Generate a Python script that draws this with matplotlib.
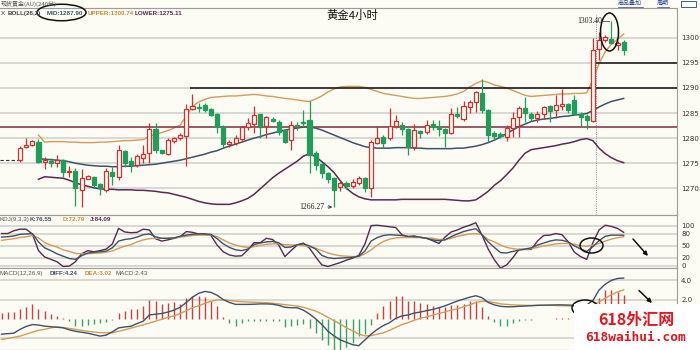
import numpy as np
import matplotlib.pyplot as plt
from matplotlib.patches import Ellipse, Rectangle

plt.rcParams['font.family'] = ['DejaVu Sans', 'Noto Sans CJK SC']

BG = '#fcfcf4'
RED = '#d22f2f'
GREEN = '#1e9e58'
MID_C = '#3e5366'
UP_C = '#d59b57'
LOW_C = '#5a2a52'
GRID = '#d5d5d2'
EDGE = '#9c9c9c'

# 4-hour gold candles, oldest first
opens = [1275.6, 1278.2, 1278.6, 1279.3, 1275.2, 1275.5, 1275.1, 1275.6, 1273.2, 1273.5,
         1269.7, 1271.9, 1272.3, 1270.8, 1269.7, 1273.3, 1272.3, 1277.5, 1275.5, 1274.6,
         1276.0, 1277.1, 1281.8, 1277.6, 1276.8, 1279.5, 1280.0, 1280.4, 1285.7, 1286.2,
         1286.6, 1285.7, 1284.9, 1282.3, 1278.8, 1279.0, 1279.8, 1282.2, 1282.9, 1284.8,
         1282.4, 1283.9, 1283.3, 1281.6, 1279.6, 1282.7, 1283.3, 1283.6, 1277.0, 1274.8,
         1273.0, 1272.0, 1270.2, 1271.0, 1270.5, 1271.0, 1272.0, 1270.0, 1279.1, 1280.3,
         1280.0, 1282.5, 1282.7, 1281.8, 1278.3, 1281.4, 1281.2, 1282.8, 1282.3, 1281.8,
         1281.1, 1284.8, 1283.9, 1286.1, 1287.1, 1289.0, 1285.6, 1281.0, 1280.9, 1280.3,
         1282.0, 1284.3, 1285.9, 1284.9, 1284.1, 1284.9, 1286.3, 1285.5, 1286.4, 1286.7,
         1287.6, 1284.9, 1284.4, 1283.5, 1297.7, 1299.5, 1299.8, 1298.5, 1299.2]
highs = [1278.4, 1280.0, 1279.7, 1279.8, 1276.2, 1276.0, 1276.6, 1275.8, 1274.4, 1274.0,
         1273.8, 1272.6, 1272.4, 1271.0, 1274.0, 1274.2, 1278.6, 1277.6, 1276.3, 1276.9,
         1278.6, 1283.0, 1283.0, 1277.7, 1280.0, 1280.3, 1281.0, 1286.8, 1288.8, 1287.0,
         1287.0, 1286.0, 1285.1, 1282.6, 1279.6, 1280.6, 1282.5, 1284.0, 1286.3, 1284.9,
         1284.5, 1284.3, 1283.6, 1281.8, 1283.4, 1283.3, 1285.5, 1287.3, 1277.4, 1275.0,
         1273.3, 1272.3, 1271.6, 1271.4, 1271.9, 1272.5, 1272.2, 1279.6, 1282.4, 1280.6,
         1285.9, 1284.7, 1283.2, 1282.1, 1282.8, 1281.7, 1283.6, 1283.7, 1283.7, 1282.0,
         1285.9, 1286.1, 1287.3, 1287.6, 1289.4, 1291.7, 1285.8, 1281.4, 1281.3, 1282.6,
         1285.3, 1286.3, 1288.2, 1285.2, 1285.4, 1286.4, 1286.6, 1288.6, 1289.7, 1287.0,
         1288.6, 1285.3, 1284.8, 1299.9, 1301.2, 1300.6, 1303.4, 1299.4, 1299.5]
lows = [1275.3, 1278.0, 1278.5, 1275.0, 1273.8, 1274.3, 1274.2, 1272.3, 1272.2, 1266.5,
        1266.3, 1271.8, 1270.1, 1268.6, 1269.3, 1270.6, 1271.7, 1274.3, 1273.3, 1274.3,
        1275.1, 1275.1, 1277.1, 1276.8, 1276.6, 1279.0, 1279.6, 1274.4, 1285.6, 1285.3,
        1285.3, 1284.5, 1281.0, 1278.3, 1278.3, 1278.6, 1279.3, 1281.6, 1281.1, 1280.0,
        1280.0, 1283.2, 1280.6, 1279.0, 1277.6, 1281.7, 1282.2, 1273.0, 1273.6, 1272.0,
        1271.0, 1266.27, 1269.5, 1269.9, 1270.0, 1270.7, 1269.2, 1268.3, 1278.9, 1278.0,
        1279.6, 1282.0, 1280.6, 1276.6, 1277.6, 1280.1, 1280.9, 1281.6, 1280.5, 1278.3,
        1280.9, 1284.0, 1283.5, 1285.1, 1285.3, 1285.0, 1279.3, 1279.6, 1280.0, 1279.4,
        1280.3, 1280.2, 1283.3, 1283.5, 1283.3, 1283.9, 1283.3, 1284.1, 1285.6, 1285.0,
        1284.7, 1282.4, 1281.8, 1283.2, 1295.6, 1299.2, 1298.7, 1297.6, 1296.6]
closes = [1278.0, 1278.7, 1279.4, 1275.3, 1275.6, 1275.1, 1275.6, 1273.3, 1273.5, 1270.0,
          1272.0, 1272.5, 1270.7, 1270.0, 1273.5, 1272.4, 1277.6, 1275.0, 1274.6, 1276.4,
          1276.8, 1281.8, 1277.6, 1277.0, 1279.6, 1280.0, 1280.6, 1285.7, 1286.3, 1285.9,
          1285.6, 1284.7, 1282.3, 1278.8, 1279.3, 1280.0, 1282.3, 1283.1, 1284.7, 1282.3,
          1284.3, 1283.5, 1281.3, 1279.3, 1282.6, 1282.5, 1283.1, 1276.6, 1274.6, 1273.0,
          1271.8, 1269.7, 1271.1, 1270.4, 1271.3, 1272.0, 1270.0, 1279.3, 1280.0, 1279.0,
          1282.4, 1283.5, 1281.8, 1278.3, 1281.6, 1281.0, 1282.7, 1282.3, 1281.8, 1281.1,
          1284.8, 1284.4, 1286.3, 1287.1, 1289.2, 1285.6, 1280.6, 1280.4, 1280.5, 1282.0,
          1284.1, 1285.9, 1285.1, 1284.1, 1284.9, 1286.1, 1285.4, 1286.6, 1286.8, 1285.6,
          1284.9, 1284.3, 1283.6, 1297.6, 1299.5, 1300.2, 1299.0, 1299.0, 1297.5]

# BOLL(26,2); the bands begin at candle 3
boll_start = 3
boll_upper = [1280.6, 1279.2, 1279.3, 1279.3, 1279.3, 1279.2, 1279.2, 1279.1, 1279.1, 1279.1,
              1279.2, 1279.2, 1279.3, 1279.4, 1279.5, 1279.5, 1279.6, 1279.7, 1280.3, 1280.8,
              1281.1, 1281.5, 1282.0, 1282.6, 1284.4, 1286.3, 1287.2, 1287.7, 1288.1, 1288.2,
              1288.3, 1288.4, 1288.4, 1288.5, 1288.6, 1288.7, 1288.6, 1288.4, 1288.3, 1288.1,
              1287.9, 1287.8, 1287.6, 1287.4, 1287.3, 1287.8, 1288.4, 1289.2, 1289.8, 1290.2,
              1290.3, 1290.3, 1290.3, 1290.1, 1289.7, 1289.3, 1288.9, 1288.7, 1288.5, 1288.3,
              1288.1, 1287.9, 1287.9, 1288.0, 1288.1, 1288.2, 1288.3, 1288.5, 1288.8, 1289.3,
              1290.2, 1290.9, 1291.4, 1291.1, 1290.6, 1290.3, 1290.0, 1289.5, 1289.0, 1288.5,
              1288.3, 1288.4, 1288.5, 1288.6, 1288.7, 1288.8, 1288.8, 1288.9, 1288.9, 1289.0,
              1291.6, 1294.8, 1297.2, 1298.7, 1299.7, 1300.74]
boll_mid = [1275.9, 1275.8, 1275.7, 1275.6, 1275.5, 1275.3, 1275.0, 1274.8, 1274.6, 1274.5,
            1274.4, 1274.4, 1274.3, 1274.3, 1274.4, 1274.4, 1274.5, 1274.6, 1274.7, 1274.8,
            1275.0, 1275.2, 1275.4, 1275.6, 1275.9, 1276.2, 1276.5, 1276.8, 1277.2, 1277.5,
            1278.0, 1278.4, 1278.8, 1279.2, 1279.6, 1280.0, 1280.3, 1280.7, 1281.0, 1281.3,
            1281.6, 1281.8, 1282.0, 1282.2, 1282.2, 1282.0, 1281.6, 1281.1, 1280.6, 1280.1,
            1279.6, 1279.1, 1278.7, 1278.3, 1278.1, 1278.0, 1278.0, 1278.0, 1278.1, 1278.1,
            1278.1, 1278.0, 1278.0, 1277.9, 1277.9, 1277.9, 1277.9, 1277.9, 1278.0, 1278.0,
            1278.2, 1278.4, 1278.7, 1279.1, 1279.6, 1280.2, 1280.9, 1281.6, 1282.3, 1282.8,
            1283.3, 1283.6, 1283.8, 1283.9, 1284.1, 1284.3, 1284.4, 1284.6, 1284.7, 1284.9,
            1285.5, 1286.2, 1286.8, 1287.3, 1287.6, 1287.90]
boll_lower = [1271.8, 1272.3, 1272.2, 1272.1, 1272.0, 1271.6, 1271.1, 1270.7, 1270.4, 1270.1,
              1269.9, 1269.8, 1269.8, 1269.7, 1269.7, 1269.7, 1269.6, 1269.6, 1269.5, 1269.4,
              1269.2, 1269.1, 1268.8, 1268.5, 1268.2, 1267.8, 1267.4, 1267.1, 1266.9, 1266.8,
              1266.8, 1266.8, 1267.1, 1267.5, 1268.0, 1268.8, 1269.9, 1271.0, 1272.1, 1273.0,
              1273.8, 1274.6, 1275.4, 1276.4, 1276.9, 1276.3, 1275.3, 1274.3, 1273.1, 1271.5,
              1270.0, 1269.0, 1268.3, 1267.9, 1267.7, 1267.7, 1267.7, 1267.7, 1267.7, 1267.8,
              1267.8, 1267.8, 1267.8, 1267.8, 1267.8, 1267.8, 1267.8, 1267.7, 1267.6, 1267.5,
              1267.5, 1267.7, 1268.5, 1269.4, 1270.6, 1271.5, 1272.7, 1274.0, 1275.6, 1277.0,
              1277.7, 1277.9, 1278.1, 1278.3, 1278.5, 1278.8, 1279.0, 1279.3, 1279.7, 1279.9,
              1279.5, 1278.0, 1276.9, 1276.1, 1275.5, 1275.11]

# KDJ(9,3,3) and MACD(12,26,9) start three bars before candle 0
ind_start = -3
kdj_k = [72, 73, 75, 79, 80, 81, 60, 45, 38, 30, 24, 18, 16, 25, 32, 34, 35, 37, 45, 62,
         66, 68, 72, 78, 80, 73, 69, 69, 70, 74, 77, 79, 80, 80, 79, 68, 55, 46, 40, 38,
         42, 53, 57, 60, 61, 58, 46, 47, 53, 55, 50, 42, 26, 20, 18, 19, 20, 21, 24, 37,
         62, 71, 76, 78, 77, 76, 74, 73, 72, 69, 65, 63, 65, 73, 80, 86, 90, 93, 78, 60,
         46, 33, 32, 36, 39, 42, 45, 52, 57, 62, 65, 64, 60, 50, 42, 36, 48, 63, 74, 77,
         77, 76.55]
kdj_d = [64, 66, 68, 71, 73, 76, 70, 58, 52, 47, 40, 36, 31, 30, 30, 31, 32, 34, 37, 44,
         49, 53, 60, 65, 68, 69, 69, 69, 70, 72, 74, 76, 77, 77, 77, 73, 65, 57, 52, 48,
         46, 48, 51, 54, 55, 55, 53, 52, 52, 51, 48, 44, 38, 32, 28, 25, 24, 23, 23, 30,
         40, 52, 61, 67, 70, 71, 71, 71, 71, 70, 69, 66, 66, 69, 74, 77, 80, 81, 78, 66,
         60, 52, 46, 43, 41, 41, 43, 46, 50, 52, 55, 56, 56, 54, 50, 49, 52, 56, 62, 67,
         70.5, 72.79]
kdj_j = [81, 81, 88, 92, 92, 80, 38, 22, 16, 10, -2, -1, 10, 30, 38, 35, 38, 42, 55, 94,
         85, 83, 84, 92, 90, 68, 62, 65, 69, 73, 86, 84, 80, 80, 76, 52, 35, 27, 24, 25,
         40, 58, 58, 69, 66, 52, 23, 38, 52, 57, 44, 22, 2, -2, 3, 8, 14, 19, 26, 55,
         101, 102, 100, 98, 96, 78, 73, 75, 71, 69, 63, 56, 72, 85, 90, 97, 102, 108, 77, 42,
         15, -6, 2, 20, 41, 41, 41, 62, 76, 77, 81, 78, 60, 34, 23, 16, 58, 90, 102, 99,
         94, 84.09]
macd_diff = [-1.6, -1.55, -1.5, -1.1, -0.8, -0.6, -0.65, -0.77, -0.82, -0.88,
             -0.94, -1.15, -1.3, -1.4, -1.5, -1.65, -1.8, -1.7, -1.35, -0.95,
             -0.85, -0.78, -0.5, -0.25, 0.4, 0.48, 0.55, 0.7, 0.9, 1.2,
             1.7, 2.25, 2.65, 2.85, 2.75, 2.45, 2.0, 1.7, 1.5, 1.5,
             1.5, 1.52, 1.55, 1.55, 1.52, 1.4, 1.2, 1.15, 1.15, 0.9,
             0.5, 0.0, -0.6, -1.3, -1.8, -2.2, -2.45, -2.7, -2.8, -2.2,
             -1.6, -1.1, -0.7, -0.4, 0.05, 0.3, 0.4, 0.6, 0.7, 0.85,
             0.97, 1.15, 1.35, 1.6, 1.85, 2.05, 2.25, 2.4, 2.2, 1.7,
             1.45, 1.3, 1.25, 1.25, 1.3, 1.33, 1.36, 1.4, 1.42, 1.43,
             1.45, 1.45, 1.43, 1.4, 1.38, 1.45, 1.9, 3.0, 3.6, 4.0,
             4.2, 4.24]
macd_dea = [-2.15, -2.05, -1.93, -1.8, -1.6, -1.4, -1.2, -1.1, -0.95, -0.85,
            -0.9, -1.0, -1.1, -1.2, -1.3, -1.38, -1.44, -1.46, -1.45, -1.3,
            -1.15, -0.97, -0.8, -0.62, -0.45, -0.25, -0.05, 0.15, 0.3, 0.55,
            0.85, 1.15, 1.35, 1.62, 1.82, 1.97, 1.97, 1.9, 1.83, 1.78,
            1.75, 1.72, 1.7, 1.67, 1.62, 1.55, 1.47, 1.4, 1.33, 1.2,
            1.0, 0.8, 0.5, 0.15, -0.2, -0.55, -0.94, -1.25, -1.6, -1.78,
            -1.75, -1.6, -1.46, -1.2, -0.9, -0.6, -0.4, -0.15, 0.05, 0.2,
            0.38, 0.55, 0.72, 0.9, 1.04, 1.25, 1.45, 1.7, 1.82, 1.8,
            1.68, 1.55, 1.5, 1.45, 1.42, 1.4, 1.4, 1.4, 1.4, 1.4,
            1.38, 1.36, 1.34, 1.32, 1.32, 1.35, 1.45, 1.75, 2.15, 2.5,
            2.8, 3.02]
macd_hist = [0.6, 0.7, 0.7, 1.0, 1.25, 1.5, 1.0, 0.8, 0.55, 0.27,
             0.1, -0.25, -0.7, -0.7, -0.6, -0.5, -0.4, -0.3, -0.15, 0.6,
             0.8, 1.0, 1.05, 1.3, 1.95, 1.85, 1.5, 1.65, 1.7, 1.55,
             2.2, 2.4, 2.4, 2.3, 1.85, 1.3, 0.2, -0.45, -0.7, -0.4,
             -0.25, -0.2, -0.2, -0.2, -0.2, -0.25, -0.85, -0.7, -0.6, -0.5,
             -1.0, -1.5, -2.2, -2.7, -3.2, -3.2, -2.9, -2.5, -1.8, -1.6,
             -0.6, 0.6, 1.3, 1.85, 2.35, 2.35, 1.85, 1.85, 1.65, 1.55,
             1.3, 1.25, 1.25, 1.4, 1.4, 1.55, 1.85, 1.85, 1.25, 0.25,
             -0.3, -0.75, -0.8, -0.45, -0.2, -0.1, -0.1, -0.05, -0.05, -0.02,
             0.05, 0.1, 0.05, 0.03, -0.05, 0.05, 1.0, 2.2, 3.0, 3.0,
             2.8, 2.43]

price_ticks = [1270, 1275, 1280, 1285, 1290, 1295, 1300]
kdj_ticks = [0, 20, 50, 80, 100]
macd_ticks = [2.0, 4.0]
macd_low_grid = -2.0

# hand-drawn levels on the price panel
level_1290 = 1290.0
level_1295 = 1295.0
level_support = 1282.2
left_stub = 1275.6

W, H = 700, 350
BAR_PX = 6.16     # candle spacing in pixels
FIRST_PX = 20     # pixel x of candle 0
PLOT_R = 677      # right edge of the plotting area


def px_to_bar(x):
    return (x - FIRST_PX) / BAR_PX


def panel(fig, top, bottom):
    return fig.add_axes([0, 1 - bottom / H, PLOT_R / W, (bottom - top) / H])


fig = plt.figure(figsize=(7, 3.5), dpi=100, facecolor=BG)
ax = panel(fig, 8, 215)
kax = panel(fig, 215, 268)
max_ = panel(fig, 268, 350)

xlim = (px_to_bar(0), px_to_bar(PLOT_R))
for a in (ax, kax, max_):
    a.set_facecolor(BG)
    a.set_xlim(*xlim)
    a.set_xticks([])
    a.yaxis.tick_right()
    a.tick_params(axis='y', length=0, pad=3, labelsize=5, labelcolor='#333333')
    a.grid(axis='y', color=GRID, lw=1.3)
    a.set_axisbelow(True)
    a.spines['left'].set_visible(False)
    for s in ('top', 'right', 'bottom'):
        a.spines[s].set_color(EDGE)
        a.spines[s].set_linewidth(0.8)

# ---- price panel ----
ax.set_ylim(1264.68, 1305.92)
ax.set_yticks(price_ticks)
ax.set_yticklabels([str(t) for t in price_ticks])

o, h, l, c = (np.array(v, dtype=float) for v in (opens, highs, lows, closes))
n = np.arange(len(o))
up = c >= o
body = c - o
body = np.where(np.abs(body) < 0.12, np.where(up, 0.12, -0.12), body)

ax.vlines(n[up], l[up], h[up], color=RED, lw=0.9, zorder=3)
ax.vlines(n[~up], l[~up], h[~up], color=GREEN, lw=0.9, zorder=3)
ax.bar(n[up], body[up], bottom=o[up], width=0.66, facecolor=BG,
       edgecolor=RED, lw=0.9, zorder=4)
ax.bar(n[~up], body[~up], bottom=o[~up], width=0.66, facecolor=GREEN,
       edgecolor=GREEN, lw=0.9, zorder=4)

bx = np.arange(boll_start, boll_start + len(boll_mid))
ax.plot(bx, boll_upper, color=UP_C, lw=1.0, zorder=2)
ax.plot(bx, boll_mid, color=MID_C, lw=1.1, zorder=2)
ax.plot(bx, boll_lower, color=LOW_C, lw=1.1, zorder=2)

ax.hlines(level_support, xlim[0], xlim[1], color='#8c3c4c', lw=1.2, zorder=2.5)
ax.hlines(level_1290, px_to_bar(190), xlim[1], color='#111111', lw=1.1, zorder=2.5)
ax.hlines(level_1295, px_to_bar(596), xlim[1], color='#111111', lw=1.1, zorder=2.5)
ax.hlines(left_stub, xlim[0], -0.4, color='#333333', lw=0.8, linestyles=(0, (3, 2)))
ax.vlines(px_to_bar(596), 1264.68, 1304.6, colors='#8a8a8a',
          linestyles=(0, (1, 1.3)), lw=0.7, zorder=1)

hi_i = int(np.argmax(h))
ax.text(hi_i - 1.5, h[hi_i], f'{h[hi_i]:.2f}', ha='right', va='center',
        fontsize=5.5, family=['Liberation Serif'], color='#222222')
ax.plot([hi_i - 1.4, hi_i - 0.35], [h[hi_i]] * 2, color='#666666', lw=0.7)

lo_i = int(np.argmin(l))
ax.annotate(f'{l[lo_i]:.2f}', xy=(lo_i - 0.3, l[lo_i]), xytext=(lo_i - 1.6, l[lo_i]),
            ha='right', va='center', fontsize=5.5, family=['Liberation Serif'],
            color='#222222',
            arrowprops=dict(arrowstyle='->', color='#333333', lw=0.6,
                            shrinkA=0.5, shrinkB=0, mutation_scale=5))

# ---- KDJ panel ----
kx = np.arange(ind_start, ind_start + len(kdj_k))
kax.set_ylim(-5.8, 127.7)
kax.set_yticks(kdj_ticks)
kax.set_yticklabels([str(t) for t in kdj_ticks])
kax.plot(kx, kdj_j, color=LOW_C, lw=1.0)
kax.plot(kx, kdj_d, color=UP_C, lw=1.0)
kax.plot(kx, kdj_k, color=MID_C, lw=1.0)

# ---- MACD panel ----
mx = np.arange(ind_start, ind_start + len(macd_hist))
hist = np.array(macd_hist)
max_.set_ylim(-3.25, 5.29)
max_.set_yticks(macd_ticks)
max_.set_yticklabels([f'{t:.1f}' for t in macd_ticks])
max_.axhline(macd_low_grid, color=GRID, lw=1.3, zorder=0.5)
max_.vlines(mx[hist >= 0], 0, hist[hist >= 0], color='#c94040', lw=1.0)
max_.vlines(mx[hist < 0], 0, hist[hist < 0], color='#35a268', lw=1.0)
max_.plot(mx, macd_dea, color=UP_C, lw=1.0)
max_.plot(mx, macd_diff, color=MID_C, lw=1.0)

# ---- overlay in pixel coordinates (y downwards) ----
ov = fig.add_axes([0, 0, 1, 1])
ov.set_xlim(0, W)
ov.set_ylim(H, 0)
ov.axis('off')
ov.patch.set_alpha(0)
ov.set_zorder(10)

small = ['Liberation Sans', 'DejaVu Sans']
cjk = ['Noto Sans CJK SC', 'DejaVu Sans']
fs = 4.5

ov.text(1, 3.5, '现货黄金(AU)(240分)', fontsize=4.3, family=cjk, color='#555555',
        va='center')
for label, x0 in (('商品叠加', 618), ('周期', 657)):
    ov.text(x0, 3.5, label, fontsize=4.3, family=cjk, color='#23408e', va='center')
    ov.plot([x0, x0 + 6.2 * len(label)], [7, 7], color='#23408e', lw=0.5)
ov.add_patch(Rectangle((681, 1), 15, 6, fill=False, ec='#23408e', lw=0.6))

hy = 13.5
ov.text(0.5, hy, 'X', fontsize=fs, family=small, color='#333333', va='center')
ov.text(8, hy, 'BOLL(26,2)', fontsize=fs, family=small, weight='bold',
        color='#444444', va='center')
ov.text(47, hy, f'MID:{boll_mid[-1]:.2f}', fontsize=fs, family=small, weight='bold',
        color=MID_C, va='center')
ov.text(88, hy, f'UPPER:{boll_upper[-1]:.2f}', fontsize=fs, family=small,
        weight='bold', color='#cf8a35', va='center')
ov.text(135, hy, f'LOWER:{boll_lower[-1]:.2f}', fontsize=fs, family=small,
        weight='bold', color=LOW_C, va='center')
ov.text(352, 15, '黄金4小时', fontsize=8.2, family=cjk, color='#111111',
        ha='center', va='center')

ky = 219.8
ov.text(-1, ky, 'KDJ(9,3,3)', fontsize=fs, family=small, color='#555555', va='center')
ov.text(30, ky, f'K:{kdj_k[-1]:.2f}', fontsize=fs, family=small, weight='bold',
        color=MID_C, va='center')
ov.text(63, ky, f'D:{kdj_d[-1]:.2f}', fontsize=fs, family=small, weight='bold',
        color='#cf8a35', va='center')
ov.text(90, ky, f'J:{kdj_j[-1]:.2f}', fontsize=fs, family=small, weight='bold',
        color=LOW_C, va='center')

my = 273.5
ov.text(0, my, 'MACD(12,26,9)', fontsize=fs, family=small, color='#555555', va='center')
ov.text(50, my, f'DIFF:{macd_diff[-1]:.2f}', fontsize=fs, family=small, weight='bold',
        color=MID_C, va='center')
ov.text(85, my, f'DEA:{macd_dea[-1]:.2f}', fontsize=fs, family=small, weight='bold',
        color='#cf8a35', va='center')
ov.text(115, my, f'MACD:{macd_hist[-1]:.2f}', fontsize=fs, family=small,
        color='#555555', va='center')

# marker rings and arrows
for (cx, cy, w, hh) in ((61.5, 12.5, 49, 16.5), (609.5, 32, 18, 38),
                        (591.5, 245.5, 23, 15), (585, 308, 26, 16)):
    ov.add_patch(Ellipse((cx, cy), w, hh, fill=False, ec='#111111', lw=1.1))
for (x0, y0, x1, y1) in ((633, 239, 648, 256), (639, 290.5, 652, 303)):
    ov.annotate('', xy=(x1, y1), xytext=(x0, y0),
                arrowprops=dict(arrowstyle='-|>', color='#111111', lw=1.1,
                                mutation_scale=6, shrinkA=0, shrinkB=0))

# site watermark box
ov.add_patch(Rectangle((574, 304), 126, 46, facecolor='white', ec='none', zorder=5))
ov.text(636, 319.5, '618外汇网', fontsize=11.5, family=cjk, weight='bold',
        color='#e8141e', ha='center', va='center', zorder=6)
ov.text(636, 337.5, '618waihui.com', fontsize=9.3, family=['DejaVu Sans Mono'],
        weight='bold', color='#e8141e', ha='center', va='center', zorder=6)

fig.savefig('out.png', dpi=100, facecolor=BG)
